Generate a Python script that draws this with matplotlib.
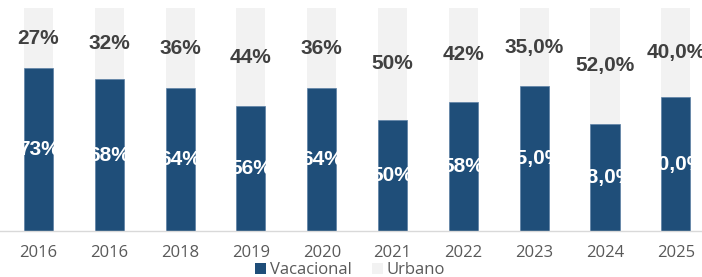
import matplotlib
matplotlib.use("Agg")
import matplotlib.pyplot as plt
from matplotlib.patches import Patch

years = ["2016", "2016", "2018", "2019", "2020", "2021", "2022", "2023", "2024", "2025"]
vacacional = [73, 68, 64, 56, 64, 50, 58, 65.0, 48.0, 60.0]
urbano = [27, 32, 36, 44, 36, 50, 42, 35.0, 52.0, 40.0]
decimals = [0, 0, 0, 0, 0, 0, 0, 1, 1, 1]

c_vac = "#1F4E79"
c_urb = "#F2F2F2"

def fmt(v, d):
    if d == 0:
        return f"{v:.0f}%"
    return f"{v:.{d}f}%".replace(".", ",")

fig = plt.figure(figsize=(7.02, 2.77), dpi=100)
ax = fig.add_axes([0, 46/277, 1, (231-8)/277])

x = list(range(len(years)))
w = 0.41
b1 = ax.bar(x, vacacional, width=w, color=c_vac, edgecolor="#5B7FA3", linewidth=0.5, zorder=2)
b2 = ax.bar(x, urbano, width=w, bottom=vacacional, color=c_urb, linewidth=0, zorder=2)

for i, (bar, v) in enumerate(zip(b1, vacacional)):
    t = ax.text(i, v/2, fmt(v, decimals[i]), ha="center", va="center", color="white",
                fontsize=15, fontweight="bold", family="Liberation Sans", zorder=3)
    t.set_clip_path(bar)
for i, (u, v) in enumerate(zip(urbano, vacacional)):
    ax.text(i, v + u/2, fmt(u, decimals[i]), ha="center", va="center", color="#404040",
            fontsize=15, fontweight="bold", family="Liberation Sans", zorder=3)

ax.set_xlim(-0.544, 9.37)
ax.set_ylim(0, 100)
ax.set_xticks(x)
ax.set_xticklabels(years, family="Open Sans", fontsize=12, color="#595959")
ax.tick_params(axis="x", length=0, pad=10)
ax.set_yticks([])
for s in ["top", "left", "right"]:
    ax.spines[s].set_visible(False)
ax.spines["bottom"].set_color("#D9D9D9")
ax.spines["bottom"].set_linewidth(1)
ax.set_facecolor("none")

handles = [Patch(facecolor=c_vac, edgecolor="none", label="Vacacional"),
           Patch(facecolor=c_urb, edgecolor="none", label="Urbano")]
fig.legend(handles=handles, loc="center", bbox_to_anchor=(350/702, 1 - 270/277), ncol=2,
           frameon=False, prop={"family": "Open Sans", "size": 12},
           handlelength=0.65, handleheight=0.65, handletextpad=0.25, columnspacing=1.2,
           labelcolor="#595959", borderpad=0)

fig.savefig("out.png", dpi=100)
